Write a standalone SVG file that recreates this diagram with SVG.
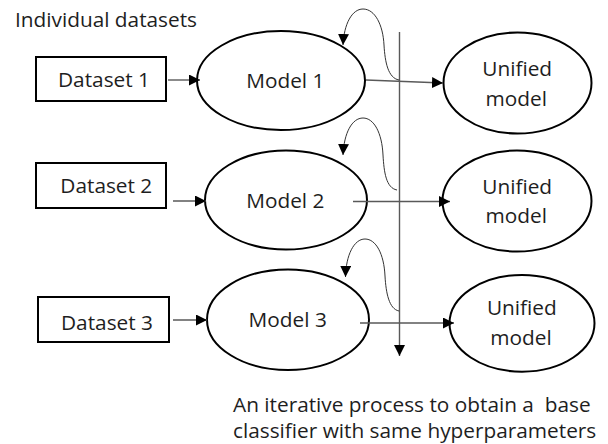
<svg xmlns="http://www.w3.org/2000/svg" width="608" height="444" viewBox="0 0 608 444">
<style>
  text { font-family: "Open Sans", "Liberation Sans", sans-serif; font-size: 20.8px; fill: #1e1e1e; }
  .c { text-anchor: middle; }
  .node { fill: #ffffff; stroke: #000000; stroke-width: 2; }
  .conn { fill: none; stroke: #595959; stroke-width: 1.4; }
  .loop { fill: none; stroke: #333333; stroke-width: 1; }
</style>
<defs>
  <marker id="ah" viewBox="0 0 10 10" refX="10" refY="5" markerUnits="userSpaceOnUse" markerWidth="11" markerHeight="11" orient="auto">
    <path d="M0,0 L10,5 L0,10 z" fill="#000000"/>
  </marker>
</defs>
<rect width="608" height="444" fill="#ffffff"/>

<text id="title" x="15" y="27">Individual datasets</text>

<g id="dataset1">
  <rect class="node" x="36" y="57" width="130" height="44"/>
  <text class="c" x="104" y="87.3">Dataset 1</text>
</g>
<g id="dataset2">
  <rect class="node" x="36" y="163" width="130" height="45"/>
  <text class="c" x="106.3" y="192.7">Dataset 2</text>
</g>
<g id="dataset3">
  <rect class="node" x="38" y="297" width="131" height="45"/>
  <text class="c" x="107" y="330">Dataset 3</text>
</g>

<g id="model1">
  <ellipse class="node" cx="281" cy="80.5" rx="84" ry="49.5"/>
  <text class="c" x="285.3" y="88.3">Model 1</text>
</g>
<g id="model2">
  <ellipse class="node" cx="286" cy="200" rx="81" ry="49.5"/>
  <text class="c" x="285.3" y="208.3">Model 2</text>
</g>
<g id="model3">
  <ellipse class="node" cx="288" cy="319.7" rx="81" ry="50.3"/>
  <text class="c" x="287.7" y="327.3">Model 3</text>
</g>

<g id="unified1">
  <ellipse class="node" cx="517.5" cy="83" rx="74" ry="50.5"/>
  <text class="c" x="517.2" y="76">Unified</text>
  <text class="c" x="516.3" y="106">model</text>
</g>
<g id="unified2">
  <ellipse class="node" cx="517" cy="201" rx="74.5" ry="50.5"/>
  <text class="c" x="517.2" y="194.3">Unified</text>
  <text class="c" x="516.3" y="223.3">model</text>
</g>
<g id="unified3">
  <ellipse class="node" cx="522" cy="323.3" rx="72.5" ry="48.4"/>
  <text class="c" x="521.8" y="315">Unified</text>
  <text class="c" x="521" y="345">model</text>
</g>

<g id="connectors">
  <line class="conn" x1="168" y1="80" x2="200" y2="80" marker-end="url(#ah)"/>
  <line class="conn" x1="173" y1="201" x2="206" y2="201" marker-end="url(#ah)"/>
  <line class="conn" x1="173" y1="320" x2="207" y2="320" marker-end="url(#ah)"/>

  <line class="conn" x1="366" y1="80" x2="443" y2="83" marker-end="url(#ah)"/>
  <line class="conn" x1="353" y1="201.5" x2="450" y2="201.5" marker-end="url(#ah)"/>
  <line class="conn" x1="360" y1="323" x2="454" y2="323" marker-end="url(#ah)"/>

  <line class="conn" x1="399.5" y1="32" x2="399.5" y2="356" marker-end="url(#ah)"/>

  <path class="loop" d="M399,80 C388,78 385,62 384,45 C383,25 375,9 363,9 C352,9 344,24 343,45" marker-end="url(#ah)"/>
  <path class="loop" d="M397,190 C386,188 384,172 383,155 C382,133 374,118 363,118 C352,118 344,133 343,155" marker-end="url(#ah)"/>
  <path class="loop" d="M399,311 C389,309 386,293 385,276 C384,254 376,239 365,239 C354,239 346,255 345.5,277" marker-end="url(#ah)"/>
</g>

<text id="caption1" x="233" y="411.7" xml:space="preserve">An iterative process to obtain a  base</text>
<text id="caption2" x="233" y="438.3">classifier with same hyperparameters</text>
</svg>
